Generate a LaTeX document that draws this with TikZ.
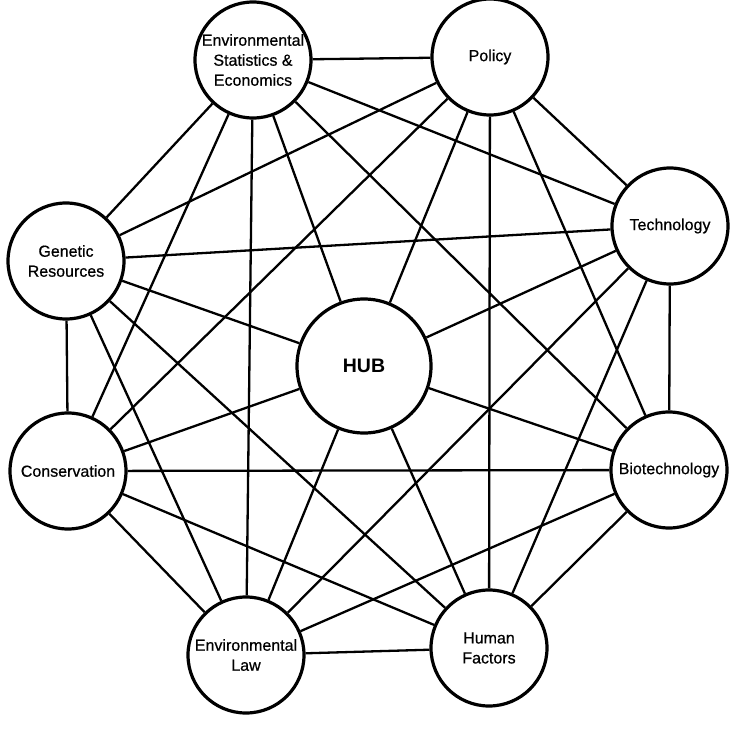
\documentclass[tikz,border=0pt]{standalone}
\usepackage{fontspec}
\setmainfont{Liberation Sans}
\newfontfamily\lblfont[FakeBold=0.6]{Liberation Sans}
\usetikzlibrary{backgrounds}
\pgfdeclarelayer{bottom}
\pgfsetlayers{bottom,background,main}
\begin{document}
\begin{tikzpicture}[x=1pt,y=-1pt,
  hubnode/.style={circle, draw, line width=3.2pt, fill=white, minimum size=134pt, inner sep=0pt, font=\fontsize{19.5}{21}\selectfont\bfseries},
  outer/.style={circle, draw, line width=3.2pt, fill=white, minimum size=116pt, inner sep=0pt, align=center, font=\lblfont\fontsize{16}{20}\selectfont},
  link/.style={line width=2.3pt}]
\useasboundingbox (0,0) rectangle (729,736);
\begin{pgfonlayer}{bottom}
\fill[white] (0,0) rectangle (729,736);
\end{pgfonlayer}
\node[outer] (ese) at (253,60) {Environmental\\Statistics \&\\Economics};
\node[outer] (pol) at (490,57) {Policy};
\node[outer] (tec) at (670,226) {Technology};
\node[outer] (bio) at (669,470) {Biotechnology};
\node[outer] (hum) at (489,648) {Human\\Factors};
\node[outer] (law) at (246,655) {Environmental\\Law};
\node[outer] (con) at (68,471) {Conservation};
\node[outer] (gen) at (66,261) {Genetic\\Resources};
\node[hubnode] (hub) at (364,366) {HUB};
\begin{pgfonlayer}{background}
\foreach \a/\b in {ese/pol,ese/tec,ese/bio,ese/law,ese/con,ese/gen,ese/hub,
  pol/tec,pol/bio,pol/hum,pol/con,pol/gen,pol/hub,
  tec/bio,tec/hum,tec/law,tec/gen,tec/hub,
  bio/hum,bio/law,bio/con,bio/hub,
  hum/law,hum/con,hum/gen,hum/hub,
  law/con,law/gen,law/hub,
  con/gen,con/hub,
  gen/hub}
  \draw[link] (\a) -- (\b);
\end{pgfonlayer}
\end{tikzpicture}
\end{document}
